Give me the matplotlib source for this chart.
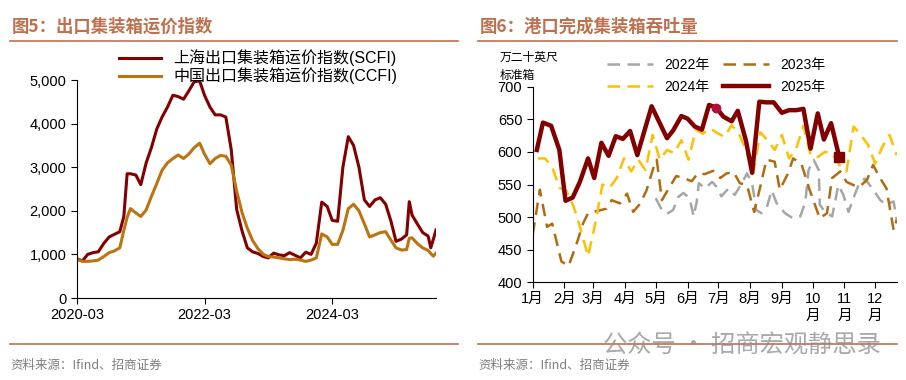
import matplotlib
matplotlib.use("Agg")
import matplotlib.pyplot as plt
import pandas as pd
from matplotlib.lines import Line2D

plt.rcParams["font.family"] = ["Liberation Sans", "Noto Sans CJK SC"]
plt.rcParams["axes.unicode_minus"] = False

# ---- Figure 5: export container freight index ----
freight_dates = [
    "2020-03-01", "2020-04-01", "2020-05-01", "2020-06-01", "2020-07-01", "2020-08-01",
    "2020-09-01", "2020-10-01", "2020-11-01", "2020-11-24", "2020-12-13", "2021-01-01",
    "2021-02-01", "2021-03-01", "2021-04-01", "2021-05-01", "2021-06-01", "2021-07-01",
    "2021-08-01", "2021-09-01", "2021-10-01", "2021-11-01", "2021-12-01", "2022-01-01",
    "2022-02-01", "2022-03-01", "2022-04-01", "2022-05-01", "2022-06-01", "2022-07-01",
    "2022-08-01", "2022-09-01", "2022-10-01", "2022-11-01", "2022-12-01", "2023-01-01",
    "2023-02-01", "2023-03-01", "2023-04-01", "2023-05-01", "2023-06-01", "2023-07-01",
    "2023-08-01", "2023-09-01", "2023-10-01", "2023-11-01", "2023-12-01", "2024-01-01",
    "2024-02-01", "2024-03-01", "2024-04-01", "2024-05-01", "2024-06-01", "2024-07-01",
    "2024-08-01", "2024-09-01", "2024-10-01", "2024-11-01", "2024-12-01", "2025-01-01",
    "2025-02-01", "2025-03-01", "2025-04-01", "2025-05-01", "2025-05-16", "2025-06-01",
    "2025-07-01", "2025-08-01", "2025-09-01", "2025-09-16", "2025-10-01", "2025-10-16",
]
scfi = [
    900, 850, 1000, 1040, 1060, 1250, 1400, 1460, 1520, 1870, 2850, 2850,
    2820, 2600, 3100, 3450, 3880, 4150, 4380, 4650, 4620, 4560, 4750, 4960,
    4980, 4650, 4380, 4200, 4200, 4150, 3400, 2030, 1550, 1150, 1060, 1020,
    950, 920, 1030, 990, 970, 1040, 980, 920, 1050, 1000, 1260, 2200,
    2100, 1780, 1760, 3000, 3700, 3500, 3000, 2250, 2100, 2250, 2300, 2150,
    1750, 1300, 1350, 1450, 2210, 1900, 1700, 1500, 1420, 1150, 1350, 1560,
]
ccfi = [
    890, 840, 840, 850, 870, 950, 1040, 1080, 1150, 1550, 1850, 2050,
    1950, 1870, 2020, 2330, 2630, 2930, 3100, 3200, 3280, 3200, 3300, 3450,
    3550, 3300, 3080, 3200, 3270, 3250, 3050, 2450, 1970, 1600, 1320, 1130,
    1000, 950, 940, 920, 900, 880, 890, 870, 840, 870, 920, 1470,
    1400, 1230, 1230, 1550, 2050, 2150, 2000, 1700, 1400, 1450, 1500, 1520,
    1320, 1150, 1100, 1110, 1370, 1380, 1250, 1150, 1090, 1020, 960, 1030,
]

# ---- Figure 6: port container throughput (day of year, 10k TEU) ----
days_2022 = [120, 126, 131, 137, 142, 147, 153, 157, 160, 162, 168, 175, 179, 184,
             191, 197, 204, 209, 214, 218, 223, 228, 233, 238, 246, 254, 261, 266,
             269, 274, 279, 280, 285, 292, 295, 298, 303, 308, 314, 319, 324, 332,
             339, 345, 352, 355]
vals_2022 = [529, 511, 505, 511, 531, 537, 529, 501, 524, 552, 544, 554, 547, 532,
             544, 534, 552, 567, 552, 511, 506, 513, 541, 521, 506, 498, 501, 524,
             572, 588, 572, 519, 508, 501, 524, 549, 534, 508, 534, 554, 559, 542,
             526, 519, 524, 496]

days_2023 = [0, 7, 14, 19, 28, 35, 43, 49, 54, 67, 72, 77, 85, 92, 98, 105, 111,
             118, 121, 126, 132, 140, 147, 155, 161, 168, 176, 183, 189, 196, 202,
             209, 216, 222, 228, 236, 241, 249, 254, 262, 270, 280, 287, 292, 300,
             306, 313, 319, 326, 332, 338, 345, 352, 355]
vals_2023 = [473, 542, 485, 490, 432, 425, 460, 490, 506, 511, 513, 526, 521, 536,
             508, 521, 541, 577, 588, 526, 542, 563, 560, 555, 567, 566, 571, 560,
             567, 569, 552, 549, 508, 547, 588, 585, 542, 567, 590, 582, 542, 498,
             506, 560, 570, 554, 549, 547, 557, 580, 562, 544, 480, 496]

days_2024 = [5, 12, 19, 26, 33, 40, 47, 54, 61, 68, 75, 82, 89, 96, 103, 110, 117,
             124, 131, 138, 145, 152, 159, 166, 173, 180, 187, 194, 201, 208, 215,
             222, 229, 236, 243, 250, 257, 264, 271, 278, 285, 292, 299, 306, 313,
             320, 327, 334, 341, 348, 355]
vals_2024 = [590, 590, 577, 545, 540, 516, 480, 440, 490, 550, 545, 560, 590, 570,
             588, 572, 626, 588, 603, 598, 618, 588, 634, 628, 636, 629, 623, 641,
             628, 603, 567, 630, 618, 603, 626, 590, 605, 640, 595, 592, 600, 598,
             580, 570, 639, 626, 611, 582, 608, 626, 595]

days_2025 = [4, 10, 18, 26, 32, 39, 46, 54, 60, 67, 74, 81, 88, 95, 102, 116, 131,
             137, 145, 151, 158, 165, 172, 179, 186, 194, 200, 208, 214, 221, 228,
             235, 243, 250, 257, 264, 271, 278, 284, 291, 299]
vals_2025 = [603, 645, 640, 603, 525, 530, 554, 590, 560, 614, 594, 624, 620, 632,
             595, 670, 621, 633, 655, 651, 639, 634, 672, 668, 654, 647, 663, 617,
             568, 677, 676, 676, 660, 664, 664, 666, 605, 659, 619, 644, 592]
highlight_day, highlight_val = 179, 668

month_labels = ["1月", "2月", "3月", "4月", "5月", "6月", "7月", "8月", "9月",
                "10\n月", "11\n月", "12\n月"]
month_days = [0, 31, 59, 90, 120, 151, 181, 212, 243, 273, 304, 334]

title_color = "#C0704E"
dark_red = "#840000"
gold_brown = "#BC7411"

fig = plt.figure(figsize=(9.06, 3.8), dpi=100)

# titles, rules, sources
fig.text(12 / 906, 1 - 27 / 380, "图5：出口集装箱运价指数", color=title_color,
         fontsize=12.5, fontweight="bold", va="center", family=["Noto Sans CJK SC"])
fig.text(480 / 906, 1 - 27 / 380, "图6：港口完成集装箱吞吐量", color=title_color,
         fontsize=12.5, fontweight="bold", va="center", family=["Noto Sans CJK SC"])
for x0, x1 in [(10, 458), (478, 897)]:
    for yy in (41, 344):
        fig.add_artist(Line2D([x0 / 906, x1 / 906], [1 - yy / 380, 1 - yy / 380],
                              color=title_color, lw=1.2))
for x0 in (10, 478):
    fig.text(x0 / 906, 1 - 365 / 380, "资料来源：Ifind、招商证券", color="#7F7F7F",
             fontsize=9, va="center", family=["Noto Sans CJK SC"])
fig.text(603 / 906, 1 - 346 / 380, "公众号 · 招商宏观静思录", color="#8C8C8C",
         alpha=0.75, fontsize=17.5, va="center", family=["Noto Sans CJK SC"])

# ---- left chart ----
ax1 = fig.add_axes([77 / 906, 1 - 298 / 380, 359 / 906, 218 / 380])
dates = pd.to_datetime(freight_dates)
ax1.plot(dates, scfi, color=dark_red, lw=2.2, label="上海出口集装箱运价指数(SCFI)")
ax1.plot(dates, ccfi, color=gold_brown, lw=2.2, label="中国出口集装箱运价指数(CCFI)")
ax1.set_ylim(0, 5000)
ax1.set_xlim(dates[0], dates[-1])
ax1.set_yticks(range(0, 5001, 1000))
ax1.set_yticklabels([f"{v:,}" for v in range(0, 5001, 1000)])
xt = pd.to_datetime(["2020-03-01", "2022-03-01", "2024-03-01"])
ax1.set_xticks(xt)
ax1.set_xticklabels(["2020-03", "2022-03", "2024-03"])
for s in ("top", "right"):
    ax1.spines[s].set_visible(False)
ax1.tick_params(labelsize=10.5, length=4, width=0.8, direction="out")
ax1.legend(loc="upper left", bbox_to_anchor=(0.10, 1.17), frameon=False,
           fontsize=11.5, handlelength=2.6, labelspacing=0.1, borderaxespad=0)

# ---- right chart ----
ax2 = fig.add_axes([532.7 / 906, 1 - 282.3 / 380, 364 / 906, 195.6 / 380])
dash = (5, 3)
l22, = ax2.plot(days_2022, vals_2022, color="#A6A6A6", lw=1.8, dashes=dash, label="2022年")
l23, = ax2.plot(days_2023, vals_2023, color="#B26B12", lw=1.8, dashes=dash, label="2023年")
l24, = ax2.plot(days_2024, vals_2024, color="#FFC000", lw=1.8, dashes=dash, label="2024年")
l25, = ax2.plot(days_2025, vals_2025, color=dark_red, lw=3.2, label="2025年")
ax2.plot(days_2025[-1], vals_2025[-1], marker="s", color=dark_red, ms=7)
ax2.plot(highlight_day, highlight_val, marker="o", color="#B0103A", ms=6)
ax2.set_xlim(0, 355)
ax2.set_ylim(400, 700)
ax2.set_yticks(range(400, 701, 50))
ax2.set_xticks(month_days)
ax2.set_xticklabels(month_labels, va="top")
for s in ("top", "right"):
    ax2.spines[s].set_visible(False)
ax2.tick_params(labelsize=10.5, length=4, width=0.8, direction="out")
ax2.tick_params(axis="x", pad=3)
for lab in ax2.get_xticklabels():
    lab.set_linespacing(1.25)
# column-major fill -> order so rows read 2022/2023 then 2024/2025
ax2.legend([l22, l24, l23, l25], ["2022年", "2024年", "2023年", "2025年"],
           loc="upper left", bbox_to_anchor=(0.19, 1.175), ncol=2, frameon=False,
           fontsize=10, handlelength=3.3, labelspacing=0.6, columnspacing=1.0,
           borderaxespad=0)
fig.text(500 / 906, 1 - 57 / 380, "万二十英尺", fontsize=8.5, va="center",
         family=["Noto Sans CJK SC"])
fig.text(500 / 906, 1 - 75 / 380, "标准箱", fontsize=8.5, va="center",
         family=["Noto Sans CJK SC"])

fig.savefig("out.png", dpi=100)
